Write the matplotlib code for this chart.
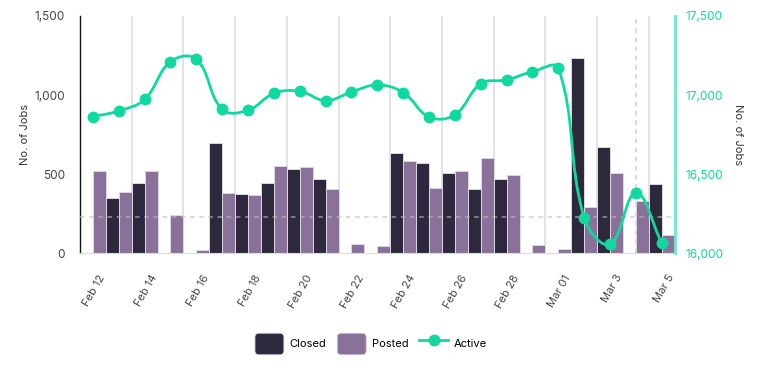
import numpy as np
import matplotlib
matplotlib.use("Agg")
import matplotlib.pyplot as plt
from matplotlib.patches import Patch, FancyBboxPatch
from matplotlib.lines import Line2D
from matplotlib.legend_handler import HandlerPatch
from matplotlib.path import Path
from matplotlib.patches import PathPatch
import matplotlib.transforms as mtransforms

plt.rcParams['font.family'] = ['Inter', 'DejaVu Sans']

days = ['Feb 12', 'Feb 13', 'Feb 14', 'Feb 15', 'Feb 16', 'Feb 17', 'Feb 18', 'Feb 19',
        'Feb 20', 'Feb 21', 'Feb 22', 'Feb 23', 'Feb 24', 'Feb 25', 'Feb 26', 'Feb 27',
        'Feb 28', 'Feb 29', 'Mar 01', 'Mar 2', 'Mar 3', 'Mar 4', 'Mar 5']
tick_labels = ['Feb 12', 'Feb 14', 'Feb 16', 'Feb 18', 'Feb 20', 'Feb 22', 'Feb 24',
               'Feb 26', 'Feb 28', 'Mar 01', 'Mar 3', 'Mar 5']
closed = [0, 350, 445, 0, 0, 700, 375, 442, 531, 468, 0, 0, 632, 569, 508, 407, 468,
          0, 0, 1237, 674, 0, 436]
posted = [520, 385, 520, 240, 20, 383, 367, 550, 544, 409, 57, 47, 584, 415, 523, 603,
          493, 53, 25, 291, 506, 329, 118]
active = [16864, 16900, 16973, 17211, 17226, 16910, 16904, 17011, 17024, 16965, 17020,
          17064, 17016, 16862, 16876, 17072, 17096, 17148, 17169, 16223, 16057, 16383, 16065]
reference_level = 230
marker_day = 'Mar 4'

C_CLOSED = '#2e283d'
C_POSTED = '#8a7199'
C_ACTIVE = '#10d9a0'
C_RAXIS = '#6ee8cb'

fig = plt.figure(figsize=(7.62, 3.85), dpi=100)
ax = fig.add_axes([80/762, 1-253.3/385, (674.7-80)/762, (253.3-16)/385])
ax2 = ax.twinx()

x = np.arange(len(days))
ax.set_xlim(-0.5, len(days) - 0.5)
ax.set_ylim(0, 1500)
ax2.set_ylim(16000, 17500)

# grid lines between odd days
for i in range(1, len(days) - 1, 2):
    ax.axvline(i + 0.5, color='#e3e3e3', lw=1.4, zorder=0)
ax.axvline(days.index(marker_day), color='#d0d0d0', lw=1.1, ls=(0, (3, 3)), zorder=0)

ax.bar(x - 0.25, closed, width=0.5, color=C_CLOSED, edgecolor='#ddd8e4', linewidth=0.7, zorder=2)
ax.bar(x + 0.25, posted, width=0.5, color=C_POSTED, edgecolor='#ddd8e4', linewidth=0.7, zorder=2)
ax.axhline(reference_level, color='#bdbdbd', lw=1.1, ls=(0, (3, 3)), alpha=0.7, zorder=3)

# Smooth (Chart.js-like spline) active line computed in display space
fig.canvas.draw()
pts = ax2.transData.transform(np.column_stack([x, active]))
n = len(pts)
tension = 0.4
cp_prev = np.zeros_like(pts)
cp_next = np.zeros_like(pts)
for i in range(n):
    prv = pts[i - 1] if i > 0 else pts[i]
    nxt = pts[i + 1] if i < n - 1 else pts[i]
    cur = pts[i]
    d01 = np.hypot(*(cur - prv))
    d12 = np.hypot(*(nxt - cur))
    tot = d01 + d12
    s01 = d01 / tot if tot else 0
    s12 = d12 / tot if tot else 0
    cp_prev[i] = cur - tension * s01 * (nxt - prv)
    cp_next[i] = cur + tension * s12 * (nxt - prv)
verts = [pts[0]]
codes = [Path.MOVETO]
for i in range(n - 1):
    verts += [cp_next[i], cp_prev[i + 1], pts[i + 1]]
    codes += [Path.CURVE4] * 3
path = Path(np.array(verts), codes)
ax2.add_patch(PathPatch(path, transform=None, facecolor='none', edgecolor=C_ACTIVE,
                        lw=2.0, zorder=4, clip_on=False))
ax2.plot(x, active, 'o', color=C_ACTIVE, markersize=7.5, zorder=5, clip_on=False)

# axes styling
for s in ['top']:
    ax.spines[s].set_visible(False)
    ax2.spines[s].set_visible(False)
ax.spines['right'].set_visible(False)
ax2.spines['left'].set_visible(False)
ax2.spines['bottom'].set_visible(False)
ax.spines['left'].set_color('#111111')
ax.spines['left'].set_linewidth(1.0)
ax.spines['bottom'].set_color('#dddddd')
ax2.spines['right'].set_color(C_RAXIS)
ax2.spines['right'].set_linewidth(2.0)

ax.set_yticks([0, 500, 1000, 1500])
ax.set_yticklabels(['0', '500', '1,000', '1,500'])
ax.tick_params(axis='y', length=0, pad=11, labelsize=8.5, labelcolor='#444444')
ax2.set_yticks([16000, 16500, 17000, 17500])
ax2.set_yticklabels(['16,000', '16,500', '17,000', '17,500'])
ax2.tick_params(axis='y', length=0, pad=8, labelsize=8.5, labelcolor=C_ACTIVE)

tick_pos = [days.index(t) for t in tick_labels]
ax.set_xticks(tick_pos)
ax.set_xticklabels(tick_labels, rotation=60, ha='right', va='center',
                   rotation_mode='anchor')
ax.tick_params(axis='x', length=0, pad=16, labelsize=8, labelcolor='#444444')
offset = mtransforms.ScaledTranslation(10/100, 0, fig.dpi_scale_trans)
for lab in ax.get_xticklabels():
    lab.set_transform(lab.get_transform() + offset)

ax.set_ylabel('No. of Jobs', fontsize=8, color='#333333', labelpad=3)
ax2.set_ylabel('No. of Jobs', fontsize=8, color='#333333', rotation=270,
               labelpad=14)


def rounded(legend, orig_handle, xdescent, ydescent, width, height, fontsize):
    return FancyBboxPatch((-xdescent, -ydescent), width, height,
                          boxstyle='round,pad=0,rounding_size=3')


handles = [Patch(facecolor=C_CLOSED, edgecolor='#cfc8d8', linewidth=0.6),
           Patch(facecolor=C_POSTED, edgecolor='#cfc8d8', linewidth=0.6),
           Line2D([], [], color=C_ACTIVE, lw=2, marker='o', markersize=7.5)]
fig.legend(handles, ['Closed', 'Posted', 'Active'], loc='center',
           bbox_to_anchor=(371/762, 1-344/385), ncol=3, frameon=False,
           fontsize=8, handlelength=2.6, handleheight=2.6, handletextpad=0.5,
           columnspacing=1.0,
           handler_map={Patch: HandlerPatch(patch_func=rounded)})

fig.savefig('out.png', dpi=100)
